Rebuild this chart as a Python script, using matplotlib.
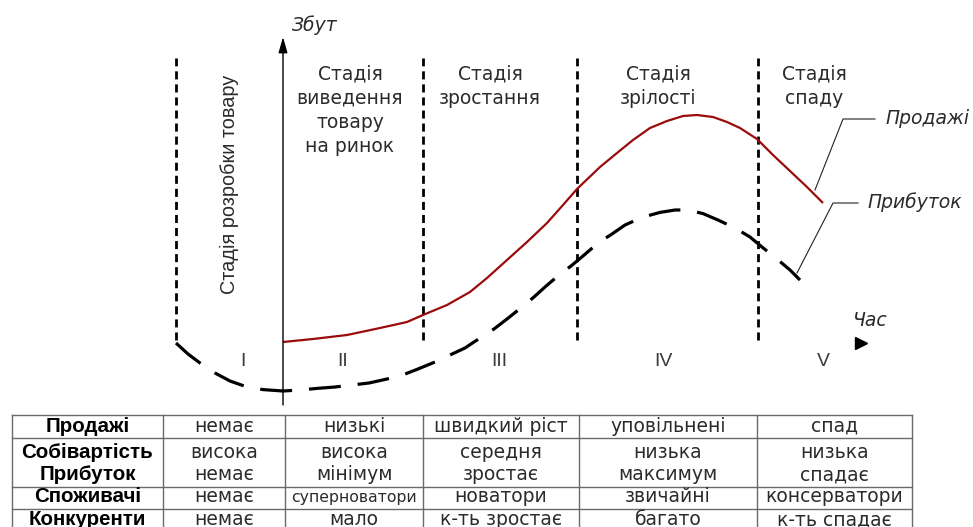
import matplotlib
matplotlib.use("Agg")
import matplotlib.pyplot as plt

plt.rcParams['font.family'] = ['DejaVu Sans']

# ---------------- data ----------------
# time (arbitrary units, 0 = launch) and sales / profit level (arbitrary units)
sales_t = [0.0, 3.0, 6.4, 9.7, 12.4, 14.0, 16.4, 18.7, 20.4, 22.4, 24.4, 26.4,
           28.0, 29.4, 31.7, 33.4, 35.0, 36.7, 38.4, 40.0, 41.4, 43.0, 44.4,
           45.7, 47.4, 49.0, 50.7, 52.4, 54.0]
sales_v = [0.5, 2.0, 4.0, 7.5, 10.5, 14.0, 19.0, 25.5, 32.5, 41.5, 50.5, 60.0,
           69.0, 77.0, 88.0, 95.0, 101.5, 107.5, 111.0, 113.5, 114.0, 113.0, 110.5,
           107.5, 102.0, 94.0, 86.0, 78.0, 70.0]

profit_t = [-10.7, -9.5, -8.3, -6.8, -5.3, -3.6, -2.0, 0.0, 1.7, 3.4, 5.2, 6.9,
            8.6, 10.4, 11.7, 13.5, 15.2, 16.7, 18.2, 19.7, 21.1, 22.4, 23.9, 25.1,
            26.2, 27.6, 28.8, 30.0, 31.5, 32.9, 34.2, 35.9, 37.7, 39.2, 40.5, 42.0,
            43.5, 45.2, 46.7, 47.9, 49.4, 50.7, 51.7]
profit_v = [0, -5.5, -10, -15, -19, -22, -23.3, -24, -23.5, -22.7, -22, -21,
            -20, -18, -16.5, -13, -9.5, -6, -2.5, 2.5, 7, 12, 18, 23,
            28, 34, 38.5, 43.5, 50, 54.5, 59, 62.8, 65.3, 66.5, 66.5, 64.7,
            61.5, 57.5, 53, 48, 42, 36.5, 31.5]

stage_bounds = [-10.7, 14.0, 29.4, 47.5]
roman = ['I', 'II', 'III', 'IV', 'V']
roman_t = [-4.0, 6.0, 21.6, 38.0, 54.0]
stage_names = ['Стадія\nвиведення\nтовару\nна ринок', 'Стадія\nзростання',
               'Стадія\nзрілості', 'Стадія\nспаду']
stage_name_t = [6.7, 20.7, 37.5, 53.1]
dev_stage = 'Стадія розробки товару'

row_labels = ['Продажі', 'Собівартість', 'Прибуток', 'Споживачі', 'Конкуренти']
row_sales = ['немає', 'низькі', 'швидкий ріст', 'уповільнені', 'спад']
row_cost = ['висока', 'висока', 'середня', 'низька', 'низька']
row_profit = ['немає', 'мінімум', 'зростає', 'максимум', 'спадає']
row_consumers = ['немає', 'суперноватори', 'новатори', 'звичайні', 'консерватори']
row_competitors = ['немає', 'мало', 'к-ть зростає', 'багато', 'к-ть спадає']
table_rows = [row_sales, row_cost, row_profit, row_consumers, row_competitors]

# ---------------- layout ----------------
W, H = 973, 527
fig = plt.figure(figsize=(W / 100, H / 100), dpi=100)
ax = fig.add_axes([0, 0, 1, 1])
ax.set_xlim(-28.3, 69.0)
ax.set_ylim(-92, 171.5)
ax.axis('off')

txt = '#2b2b2b'
red = '#9b0b0b'
arial = ['Liberation Sans', 'DejaVu Sans']

# stage boundary dashed lines
for tb in stage_bounds:
    ax.plot([tb, tb], [1.5, 142.5], color='black', lw=2.0,
            dashes=(2.9, 1.8), dash_capstyle='butt')

# vertical sales axis with arrow
ax.annotate('', xy=(0, 153), xytext=(0, -31),
            arrowprops=dict(arrowstyle='-|>,head_length=0.95,head_width=0.27',
                            lw=1.0, color='black', mutation_scale=10,
                            shrinkA=0, shrinkB=0))
ax.text(0.9, 159, 'Збут', fontsize=13.5, style='italic', color=txt,
        ha='left', va='center')

# time arrow (head only)
ax.plot([57.75], [0], marker='>', markersize=9, color='black', mec='black')
ax.text(58.7, 11.5, 'Час', fontsize=13.5, style='italic', color=txt,
        ha='center', va='center')

# curves
ax.plot(sales_t, sales_v, color=red, lw=1.6, solid_capstyle='butt',
        solid_joinstyle='round')
ax.plot(profit_t, profit_v, color='black', lw=2.3, dashes=(10, 5.3),
        dash_capstyle='butt', dash_joinstyle='round')

# stage labels
for name, tc in zip(stage_names, stage_name_t):
    for i, line in enumerate(name.split('\n')):
        ax.text(tc, 132 - 12.25 * i, line, fontsize=13.5, color=txt,
                ha='center', va='baseline')

ax.text(-5.4, 79.5, dev_stage, fontsize=14.3, color=txt, rotation=90,
        ha='center', va='center', family=arial)

for r, tc in zip(roman, roman_t):
    ax.text(tc, -9.5, r, fontsize=14, color='#3a3a3a', ha='center',
            va='center', family=arial)

# curve labels with leader lines
ax.plot([59.2, 56.0, 53.2], [112, 112, 76.5], color='#222222', lw=0.8)
ax.text(60.2, 112.5, 'Продажі', fontsize=13.5, style='italic', color=txt,
        ha='left', va='center')
ax.plot([57.5, 55.0, 51.4], [70, 70, 35], color='#222222', lw=0.8)
ax.text(58.4, 70.5, 'Прибуток', fontsize=13.5, style='italic', color=txt,
        ha='left', va='center')

# ---------------- table ----------------
col_edges = [12, 163, 285, 423, 579, 757, 912]
row_lines = [415, 438, 487, 509]
t_bottom = 532
baselines = [432, 457.5, 480.5, 502, 525]

tax = fig.add_axes([0, 0, 1, 1])
tax.set_xlim(0, W)
tax.set_ylim(H, 0)
tax.axis('off')
lc = '#6a6a6a'
for y in row_lines:
    tax.plot([col_edges[0], col_edges[-1]], [y, y], color=lc, lw=1.0)
for x in col_edges:
    tax.plot([x, x], [row_lines[0], t_bottom], color=lc, lw=1.0)

centers = [(a + b) / 2 for a, b in zip(col_edges[:-1], col_edges[1:])]
for i, (lab, vals) in enumerate(zip(row_labels, table_rows)):
    tax.text(centers[0], baselines[i], lab, fontsize=14.8, fontweight='bold',
             color='black', ha='center', va='baseline', family=arial)
    for j, v in enumerate(vals):
        fs = 11.3 if v == 'суперноватори' else 13.5
        tax.text(centers[j + 1], baselines[i], v, fontsize=fs, color=txt,
                 ha='center', va='baseline')

fig.savefig('out.png', dpi=100)
